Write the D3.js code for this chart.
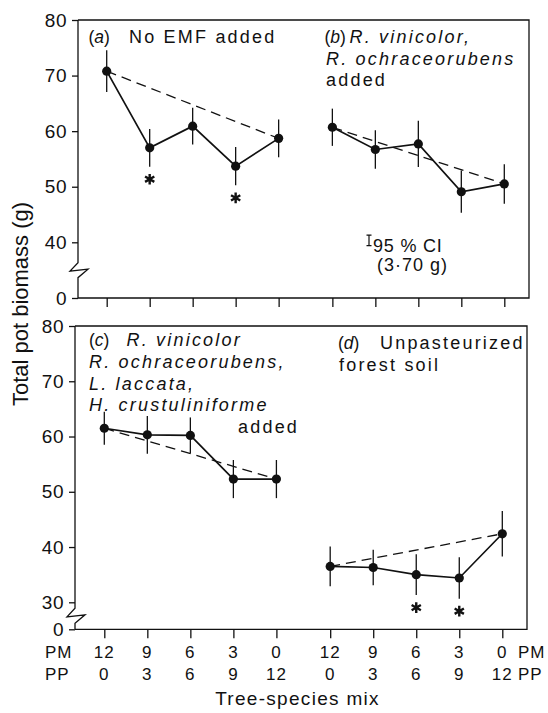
<!DOCTYPE html>
<html>
<head>
<meta charset="utf-8">
<script src="https://cdn.jsdelivr.net/npm/d3@7"></script>
<style>
  html, body { margin: 0; padding: 0; background: #fff; }
  svg { display: block; }
  text { font-family: "Liberation Sans", Arial, Helvetica, sans-serif; fill: #111; }
</style>
</head>
<body>
<svg id="chart" width="548" height="713"></svg>
<script>
// Tree-species mix: number of P. menziesii (PM) and P. ponderosa (PP) seedlings per pot
const pmLabels = ["12", "9", "6", "3", "0"];
const ppLabels = ["0", "3", "6", "9", "12"];
const yTicksTop = [0, 40, 50, 60, 70, 80];
const yTicksBottom = [0, 30, 40, 50, 60, 70, 80];

// Mean total pot biomass (g) and half-width of the 95 % CI per mix
const meanA = [70.8, 57.0, 60.9, 53.7, 58.7];
const errA  = [3.75, 3.4, 3.3, 3.45, 3.4];
const sigA  = [false, true, false, true, false];

const meanB = [60.7, 56.7, 57.7, 49.1, 50.5];
const errB  = [3.35, 3.45, 4.15, 3.8, 3.55];
const sigB  = [false, false, false, false, false];

const meanC = [61.5, 60.3, 60.2, 52.3, 52.3];
const errC  = [3.0, 3.4, 3.25, 3.45, 3.45];
const sigC  = [false, false, false, false, false];

const meanD = [36.5, 36.3, 35.0, 34.4, 42.4];
const errD  = [3.6, 3.2, 3.7, 3.75, 4.1];
const sigD  = [false, false, true, true, false];

// Pooled 95 % confidence interval (g)
const ci = 3.70;
const ciBase = 37.6;

const svg = d3.select("#chart");
const ink = "#111";

// slot position of a mix within a row: two groups of five, separated by a gap
const groupGap = 1.25;
const slot = (i, g) => i + g * (pmLabels.length - 1 + groupGap);
const slotsAll = [0, 1].flatMap(g => pmLabels.map((_, i) => slot(i, g)));
const slotMax = slot(pmLabels.length - 1, 1);

const rows = [
  {
    left: 78, right: 529,
    x: d3.scaleLinear().domain([0, slotMax]).range([106.7, 504.3]),
    y: d3.scaleLinear().domain([0, 40, 80]).range([298, 242.3, 20]),
    ticks: yTicksTop, brk: 40, labels: false
  },
  {
    left: 75, right: 527,
    x: d3.scaleLinear().domain([0, slotMax]).range([104.3, 502.3]),
    y: d3.scaleLinear().domain([0, 30, 80]).range([629.3, 602.3, 326]),
    ticks: yTicksBottom, brk: 30, labels: true
  }
];

rows.forEach(r => {
  const g = svg.append("g");
  const y0 = r.y(0), yTop = r.y(80);

  // frame: top, right and bottom edges
  g.append("path")
    .attr("d", `M${r.left},${yTop}H${r.right}V${y0}H${r.left}`)
    .attr("fill", "none").attr("stroke", ink).attr("stroke-width", 1.3);

  // left axis with a break between the lowest tick and zero
  const cy = (r.y(r.brk) + y0) / 2;
  g.append("path")
    .attr("d", `M${r.left},${yTop}V${cy - 7.5}L${r.left - 8},${cy + 1}L${r.left + 10},${cy - 1}L${r.left},${cy + 7.5}V${y0}`)
    .attr("fill", "none").attr("stroke", ink).attr("stroke-width", 1.3);

  const ya = g.append("g")
    .attr("transform", `translate(${r.left},0)`)
    .call(d3.axisLeft(r.y).tickValues(r.ticks).tickSize(6).tickPadding(5).tickFormat(d3.format("d")));
  ya.select(".domain").remove();
  ya.selectAll(".tick line").attr("stroke", ink).attr("stroke-width", 1.3);
  ya.selectAll(".tick text")
    .attr("font-size", 19).attr("letter-spacing", 0.5)
    .attr("font-family", null).attr("fill", ink);

  const xa = g.append("g")
    .attr("transform", `translate(0,${y0})`)
    .call(d3.axisBottom(r.x).tickValues(slotsAll).tickSize(9).tickFormat(""));
  xa.select(".domain").remove();
  xa.selectAll(".tick line").attr("stroke", ink).attr("stroke-width", 1.3);

  if (r.labels) {
    [0, 1].forEach(grp => {
      pmLabels.forEach((lab, i) => {
        g.append("text").attr("x", r.x(slot(i, grp))).attr("y", 658.3)
          .attr("text-anchor", "middle").attr("font-size", 17).attr("letter-spacing", 1)
          .text(lab);
      });
      ppLabels.forEach((lab, i) => {
        g.append("text").attr("x", r.x(slot(i, grp))).attr("y", 679.5)
          .attr("text-anchor", "middle").attr("font-size", 17).attr("letter-spacing", 1)
          .text(lab);
      });
    });
    [["PM", 658.3], ["PP", 679.5]].forEach(([t, yy]) => {
      g.append("text").attr("x", 45).attr("y", yy).attr("font-size", 17).attr("letter-spacing", 1).text(t);
      g.append("text").attr("x", 518).attr("y", yy).attr("font-size", 17).attr("letter-spacing", 1).text(t);
    });
  }
});

// the four treatments
const panels = [
  { row: rows[0], grp: 0, mean: meanA, err: errA, sig: sigA },
  { row: rows[0], grp: 1, mean: meanB, err: errB, sig: sigB },
  { row: rows[1], grp: 0, mean: meanC, err: errC, sig: sigC },
  { row: rows[1], grp: 1, mean: meanD, err: errD, sig: sigD }
];

panels.forEach(p => {
  const { x, y } = p.row;
  const pts = p.mean.map((m, i) => ({ x: x(slot(i, p.grp)), m, e: p.err[i], s: p.sig[i] }));
  const g = svg.append("g");

  // additive expectation: straight line between the two monocultures
  const first = pts[0], last = pts[pts.length - 1];
  g.append("line")
    .attr("x1", first.x).attr("y1", y(first.m))
    .attr("x2", last.x).attr("y2", y(last.m))
    .attr("stroke", ink).attr("stroke-width", 1.3).attr("stroke-dasharray", "10,6");

  g.selectAll("line.err").data(pts).join("line").attr("class", "err")
    .attr("x1", d => d.x).attr("x2", d => d.x)
    .attr("y1", d => y(d.m + d.e)).attr("y2", d => y(d.m - d.e))
    .attr("stroke", ink).attr("stroke-width", 1.3);

  g.append("path")
    .attr("d", d3.line().x(d => d.x).y(d => y(d.m))(pts))
    .attr("fill", "none").attr("stroke", ink).attr("stroke-width", 1.7);

  g.selectAll("circle").data(pts).join("circle")
    .attr("cx", d => d.x).attr("cy", d => y(d.m)).attr("r", 4.6).attr("fill", ink);

  g.selectAll("path.star").data(pts.filter(d => d.s)).join("path").attr("class", "star")
    .attr("transform", d => `translate(${d.x},${y(d.m - d.e) + 12.5})`)
    .attr("d", d3.symbol(d3.symbolAsterisk, 80)())
    .attr("fill", "none").attr("stroke", ink).attr("stroke-width", 2.4);
});

// panel captions
function caption(x, yy, parts, opts = {}) {
  const t = svg.append("text").attr("x", x).attr("y", yy)
    .attr("font-size", opts.size || 18).attr("letter-spacing", opts.ls != null ? opts.ls : 2.2);
  parts.forEach(([s, it]) => t.append("tspan").attr("font-style", it ? "italic" : null).text(s));
  return t;
}
function tag(x, yy, letter) {
  caption(x, yy, [["(", false], [letter, true], [")", false]], { size: 17.5, ls: 0 });
}

tag(88.5, 43.3, "a");
caption(129, 43.3, [["No EMF added", false]]);

tag(324.5, 43.3, "b");
caption(349.5, 43.3, [["R. vinicolor,", true]]);
caption(326, 64.8, [["R. ochraceorubens", true]]);
caption(326, 86.3, [["added", false]]);

tag(89, 346, "c");
caption(126.5, 346, [["R. vinicolor", true]]);
caption(89, 367.8, [["R. ochraceorubens,", true]]);
caption(89, 389.6, [["L. laccata,", true]]);
caption(89, 411.4, [["H. crustuliniforme", true]]);
caption(238, 433.2, [["added", false]]);

tag(338, 349, "d");
caption(380, 349, [["Unpasteurized", false]]);
caption(339, 370.5, [["forest soil", false]]);

// pooled 95 % CI scale bar in panel (b)
{
  const y = rows[0].y;
  const bx = 369;
  const yb = y(ciBase), yt = y(ciBase + ci);
  svg.append("path")
    .attr("d", `M${bx - 2.5},${yt}H${bx + 2.5}M${bx},${yt}V${yb}M${bx - 2.5},${yb}H${bx + 2.5}`)
    .attr("fill", "none").attr("stroke", ink).attr("stroke-width", 1.2);
  caption(373, 252, [["95 % CI", false]], { ls: 0.8 });
  caption(377, 271, [[`(${d3.format(".2f")(ci).replace(".", "·")} g)`, false]], { ls: 1 });
}

// axis titles
svg.append("text")
  .attr("transform", "translate(27.5,304) rotate(-90)")
  .attr("text-anchor", "middle").attr("font-size", 22)
  .text("Total pot biomass (g)");

svg.append("text")
  .attr("x", 297.5).attr("y", 705)
  .attr("text-anchor", "middle").attr("font-size", 19).attr("letter-spacing", 1.3)
  .text("Tree-species mix");
</script>
</body>
</html>
